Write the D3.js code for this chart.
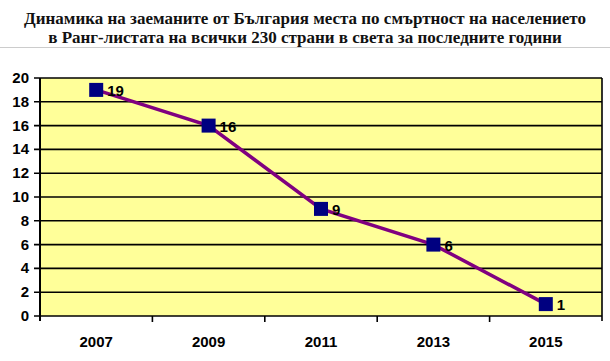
<!DOCTYPE html>
<html><head><meta charset="utf-8">
<script src="https://cdn.jsdelivr.net/npm/d3@7/dist/d3.min.js"></script>
<style>body{margin:0;background:#fff}svg{display:block}</style>
</head><body>
<svg id="c" width="610" height="361"></svg>
<script>
const titleLines = ["Динамика на заеманите от България места по смъртност на населението","в Ранг-листата на всички 230 страни в света за последните години"];
const years = ["2007","2009","2011","2013","2015"];
const ranks = [19,16,9,6,1];
const yTicks = [0,2,4,6,8,10,12,14,16,18,20];

const svg = d3.select("#c");
const L=40,R=602,T=78,B=316;
const x = d3.scaleBand().domain(years).range([L,R]);
const y = d3.scaleLinear().domain([0,20]).range([B,T]);

svg.append("g").selectAll("text").data(titleLines).join("text")
  .attr("x",305).attr("y",(d,i)=>24+i*19).attr("text-anchor","middle")
  .attr("font-family","Liberation Serif, Times New Roman, serif").attr("font-weight","bold")
  .attr("font-size",17).attr("fill","#111").text(d=>d);
svg.append("line").attr("x1",0).attr("x2",610).attr("y1",47.5).attr("y2",47.5).attr("stroke","#ccc").attr("stroke-width",1);

svg.append("rect").attr("x",L).attr("y",T).attr("width",R-L).attr("height",B-T).attr("fill","#FFFF99");
svg.append("g").selectAll("line").data(yTicks).join("line")
  .attr("x1",L-6).attr("x2",R).attr("y1",d=>y(d)).attr("y2",d=>y(d))
  .attr("stroke","#000").attr("stroke-width",1.6);
svg.append("line").attr("x1",L).attr("x2",L).attr("y1",T).attr("y2",B+5).attr("stroke","#000").attr("stroke-width",2);
svg.append("line").attr("x1",R).attr("x2",R).attr("y1",T).attr("y2",B+5).attr("stroke","#000").attr("stroke-width",1.6);
svg.append("g").selectAll("line").data(years.slice(1)).join("line")
  .attr("x1",d=>x(d)).attr("x2",d=>x(d)).attr("y1",B).attr("y2",B+6).attr("stroke","#000").attr("stroke-width",1.6);

svg.append("g").selectAll("text").data(yTicks).join("text")
  .attr("x",29).attr("y",d=>y(d)+5).attr("text-anchor","end")
  .attr("font-family","Liberation Sans, Arial, sans-serif").attr("font-weight","bold").attr("font-size",15).text(d=>d);
svg.append("g").selectAll("text").data(years).join("text")
  .attr("x",d=>x(d)+x.bandwidth()/2).attr("y",347).attr("text-anchor","middle")
  .attr("font-family","Liberation Sans, Arial, sans-serif").attr("font-weight","bold").attr("font-size",15).text(d=>d);

const cx = (d,i)=>x(years[i])+x.bandwidth()/2;
svg.append("path").datum(ranks)
  .attr("d",d3.line().x(cx).y(d=>y(d)))
  .attr("fill","none").attr("stroke","#800080").attr("stroke-width",3.5);
svg.append("g").selectAll("rect").data(ranks).join("rect")
  .attr("x",(d,i)=>cx(d,i)-7).attr("y",d=>y(d)-7).attr("width",14).attr("height",14).attr("fill","#000080");
svg.append("g").selectAll("text").data(ranks).join("text")
  .attr("x",(d,i)=>cx(d,i)+11).attr("y",d=>y(d)+6)
  .attr("font-family","Liberation Sans, Arial, sans-serif").attr("font-weight","bold").attr("font-size",15).text(d=>d);
</script>
</body></html>
